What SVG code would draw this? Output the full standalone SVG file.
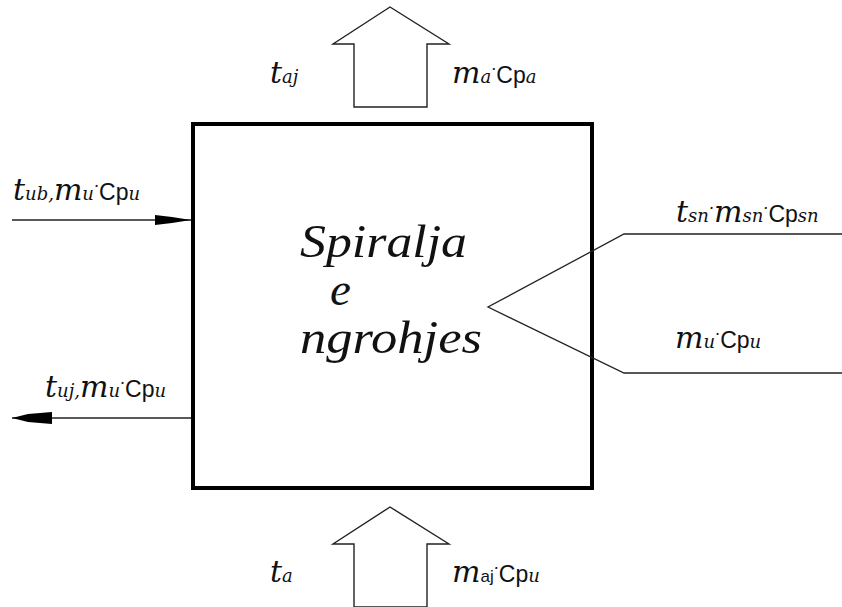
<svg xmlns="http://www.w3.org/2000/svg" width="842" height="607" viewBox="0 0 842 607">
<style>
.thin{fill:none;stroke:#222;stroke-width:1.3}
.blk{fill:#fff;stroke:#222;stroke-width:1.4;stroke-linejoin:miter}
.box{fill:#fff;stroke:#000;stroke-width:4}
.lbl{font-family:"DejaVu Serif",serif;font-style:italic;font-size:30px;fill:#111}
.sub{font-size:18px}
.cp{font-family:"Liberation Sans",Arial,sans-serif;font-style:normal;font-size:23px}
.dot{font-size:16px}
.title{font-family:"Liberation Serif","Times New Roman",serif;font-style:italic;font-size:47px;fill:#111}
</style>
<rect width="842" height="607" fill="#fff"/>
<g id="heater">
<rect class="box" x="193" y="124" width="399" height="364"/>
<text class="title" x="300" y="257" textLength="167" lengthAdjust="spacingAndGlyphs">Spiralja</text>
<text class="title" x="330" y="305">e</text>
<text class="title" x="300" y="353" textLength="182" lengthAdjust="spacingAndGlyphs">ngrohjes</text>
</g>
<g id="air-out">
<polygon class="blk" points="354,107 354,44 333,44 390,7 449,44 427,44 427,107"/>
<text class="lbl" x="270" y="83">t<tspan class="sub">aj</tspan></text>
<text class="lbl" x="452" y="83">m<tspan class="sub">a</tspan><tspan class="dot" dy="-8">·</tspan><tspan class="cp" dy="8">Cp</tspan><tspan class="sub">a</tspan></text>
</g>
<g id="air-in">
<polygon class="blk" points="354,607 354,544 333,544 390,507 449,544 427,544 427,607"/>
<text class="lbl" x="270" y="582">t<tspan class="sub">a</tspan></text>
<text class="lbl" x="452" y="582">m<tspan class="cp" style="font-size:17px">aj</tspan><tspan class="dot" dy="-8">·</tspan><tspan class="cp" dy="8">Cp</tspan><tspan class="sub">u</tspan></text>
</g>
<g id="water-in-label">
<text class="lbl" x="13" y="200">t<tspan class="sub">ub,</tspan>m<tspan class="sub">u</tspan><tspan class="dot" dy="-8">·</tspan><tspan class="cp" dy="8">Cp</tspan><tspan class="sub">u</tspan></text>
</g>
<g id="water-out-label">
<text class="lbl" x="45" y="397">t<tspan class="sub">uj,</tspan>m<tspan class="sub">u</tspan><tspan class="dot" dy="-8">·</tspan><tspan class="cp" dy="8">Cp</tspan><tspan class="sub">u</tspan></text>
</g>
<g id="steam-labels">
<text class="lbl" x="676" y="222">t<tspan class="sub">sn</tspan><tspan class="dot" dy="-8">·</tspan><tspan dy="8">m</tspan><tspan class="sub">sn</tspan><tspan class="dot" dy="-8">·</tspan><tspan class="cp" dy="8">Cp</tspan><tspan class="sub">sn</tspan></text>
<text class="lbl" x="675" y="348">m<tspan class="sub">u</tspan><tspan class="dot" dy="-8">·</tspan><tspan class="cp" dy="8">Cp</tspan><tspan class="sub">u</tspan></text>
</g>
<g id="connectors">
<line class="thin" x1="12" y1="220" x2="191" y2="220"/>
<polygon fill="#000" points="155,215 172,217 191,220 172,223 155,225"/>
<line class="thin" x1="12" y1="418" x2="191" y2="418"/>
<polygon fill="#000" points="12,418 20,416 28,414 52,412 52,424 28,422 20,420"/>
<polyline class="thin" points="842,234 624,234 488,307 624,373 842,373"/>
</g>
</svg>
